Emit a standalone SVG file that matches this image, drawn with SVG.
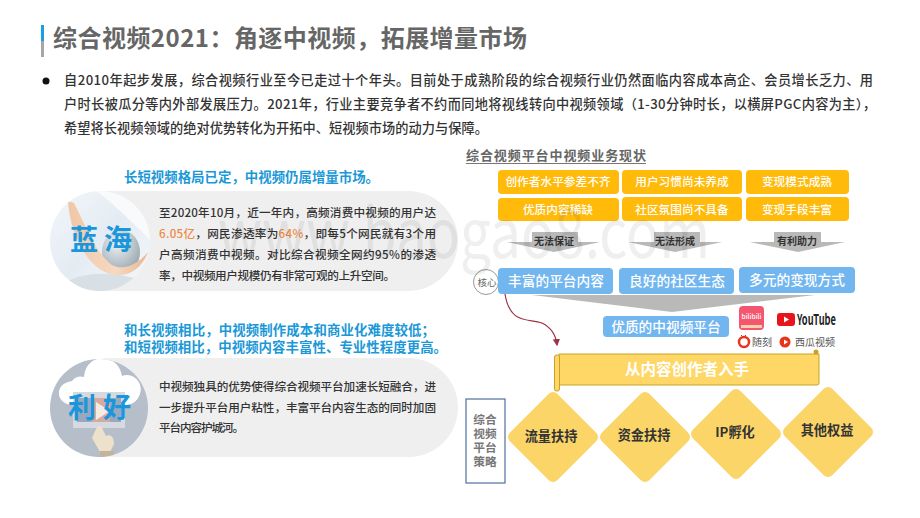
<svg xmlns="http://www.w3.org/2000/svg" width="920" height="518" viewBox="0 0 920 518">
<defs>
<style>
text{font-family:"Noto Sans CJK SC","Noto Sans",sans-serif}
.body{font-size:13.2px;fill:#333;font-weight:500}
.pill{font-size:11.6px;fill:#333;font-weight:500}
.hd{font-size:13.4px;fill:#1a98d8;font-weight:700}
.big{font-size:28px;fill:#1a96dc;font-weight:700}
.or{fill:#ffba0a}
.ot{font-size:11.7px;fill:#fff;text-anchor:middle;font-weight:500}
.bl{fill:#72b6f0}
.bt{font-size:13.7px;fill:#fff;text-anchor:middle;font-weight:500}
.ar{fill:#b9b9b9}
.at{font-size:10px;fill:#333;text-anchor:middle;font-weight:700}
.dm{fill:#fbd568;stroke:#fbd568;stroke-width:12;stroke-linejoin:round}
.dt{font-size:13.2px;fill:#333;text-anchor:middle;font-weight:700}
.st{font-size:11.7px;fill:#777;text-anchor:middle;font-weight:700}
.pb{fill:#efefef}
</style>
<linearGradient id="bar" x1="0" y1="0" x2="0" y2="1"><stop offset="0.5" stop-color="#1a9ee0"/><stop offset="0.5" stop-color="#a6a6a6"/></linearGradient>
<linearGradient id="sea" x1="0" y1="0" x2="1" y2="1"><stop offset="0" stop-color="#f2f6f9"/><stop offset="0.5" stop-color="#e4ecf3"/><stop offset="1" stop-color="#f6f8fa"/></linearGradient>
<radialGradient id="globe" cx="0.4" cy="0.3" r="0.75"><stop offset="0" stop-color="#f0f3f5"/><stop offset="1" stop-color="#94a3ab"/></radialGradient>
<linearGradient id="rib" x1="0" y1="0" x2="1" y2="0"><stop offset="0" stop-color="#f0c7a6"/><stop offset="0.6" stop-color="#f5d9c2"/><stop offset="1" stop-color="#eab691"/></linearGradient>
<clipPath id="c1"><circle cx="100" cy="241" r="50"/></clipPath>
<clipPath id="c2"><circle cx="99" cy="408" r="49"/></clipPath>
<marker id="arr" markerWidth="7" markerHeight="7" refX="5" refY="3" orient="auto"><path d="M0 0L6 3L0 6Z" fill="#a03045"/></marker>
</defs>
<rect width="920" height="518" fill="#fff"/>

<g id="title">
<rect x="41" y="25" width="3" height="32" fill="url(#bar)"/>
<text x="53" y="47" font-size="24" fill="#666" font-weight="700" textLength="474">综合视频2021：角逐中视频，拓展增量市场</text>
</g>

<g id="intro">
<circle cx="46" cy="81" r="3.5" fill="#111"/>
<text class="body" x="64" y="85" textLength="809">自2010年起步发展，综合视频行业至今已走过十个年头。目前处于成熟阶段的综合视频行业仍然面临内容成本高企、会员增长乏力、用</text>
<text class="body" x="64" y="109" textLength="812">户时长被瓜分等内外部发展压力。2021年，行业主要竞争者不约而同地将视线转向中视频领域（1-30分钟时长，以横屏PGC内容为主），</text>
<text class="body" x="64" y="133" textLength="424">希望将长视频领域的绝对优势转化为开拓中、短视频市场的动力与保障。</text>
</g>

<g id="blue-sea">
<text class="hd" x="124" y="182" textLength="255">长短视频格局已定，中视频仍属增量市场。</text>
<rect class="pb" x="60" y="191" width="398" height="100" rx="50"/>
<circle cx="100" cy="241" r="50" fill="url(#sea)"/>
<g clip-path="url(#c1)">
<path d="M95 190C115 205 135 225 150 240V190Z" fill="#f8fafc"/>
<path d="M60 285C85 270 115 272 140 280L128 296H72Z" fill="#d8dfe5"/>
<ellipse cx="121" cy="252" rx="19" ry="22" fill="url(#globe)"/>
<path d="M68 201C70 235 88 268 110 274C128 279 142 268 148 252C140 262 125 272 112 265C96 254 84 222 74 203Z" fill="url(#rib)"/>
</g>
<text class="big" x="70" y="250">蓝</text>
<text class="big" x="104" y="250">海</text>
<text class="pill" x="159" y="217" textLength="277">至2020年10月，近一年内，高频消费中视频的用户达</text>
<text class="pill" x="159" y="238" textLength="277"><tspan fill="#ee8a45">6.05亿</tspan>，网民渗透率为<tspan fill="#ee8a45">64%</tspan>，即每5个网民就有3个用</text>
<text class="pill" x="159" y="259" textLength="277">户高频消费中视频。对比综合视频全网约95%的渗透</text>
<text class="pill" x="159" y="280" textLength="236">率，中视频用户规模仍有非常可观的上升空间。</text>
</g>

<g id="benefit">
<text class="hd" x="124" y="335" textLength="311">和长视频相比，中视频制作成本和商业化难度较低；</text>
<text class="hd" x="124" y="352" textLength="323">和短视频相比，中视频内容丰富性、专业性程度更高。</text>
<rect class="pb" x="60" y="358" width="398" height="99" rx="49.5"/>
<circle cx="99" cy="408" r="49" fill="#b6bec9"/>
<g clip-path="url(#c2)">
<path d="M72 405C56 404 53 384 72 381C76 376 80 376 84 377C86 352 118 352 122 376C132 372 144 382 140 394C137 403 130 405 124 405Z" fill="#fff"/>
<rect x="73" y="392" width="52" height="36" fill="#d5dae1"/>
<rect x="77" y="398" width="44" height="24" fill="#98a9bf"/>
<rect x="92" y="398" width="18" height="24" fill="#d8a9a2"/>
<path d="M96 402L110 411L96 420Z" fill="#f4ece0"/>
<path d="M96 429C98 424 102 425 103 430L106 436C110 434 114 436 114 444L110 452H100L92 438Z" fill="#eee1cc"/>
<rect x="100" y="451" width="14" height="8" fill="#c4b49b"/>
</g>
<text class="big" x="68" y="418">利</text>
<text class="big" x="103" y="418">好</text>
<text class="pill" x="159" y="391" textLength="277">中视频独具的优势使得综合视频平台加速长短融合，进</text>
<text class="pill" x="159" y="412" textLength="277">一步提升平台用户粘性，丰富平台内容生态的同时加固</text>
<text class="pill" x="159" y="432" textLength="85">平台内容护城河。</text>
</g>

<g id="status-title">
<text x="466" y="160" font-size="13" font-weight="700" fill="#666" textLength="180">综合视频平台中视频业务现状</text>
<rect x="466" y="163" width="180" height="1" fill="#777"/>
</g>

<g id="factors">
<rect class="or" x="498" y="170" width="121" height="24" rx="4"/><text class="ot" x="558" y="186">创作者水平参差不齐</text>
<rect class="or" x="622" y="170" width="120" height="24" rx="4"/><text class="ot" x="682" y="186">用户习惯尚未养成</text>
<rect class="or" x="746" y="170" width="103" height="24" rx="4"/><text class="ot" x="797" y="186">变现模式成熟</text>
<rect class="or" x="498" y="198" width="121" height="23" rx="4"/><text class="ot" x="558" y="213.500">优质内容稀缺</text>
<rect class="or" x="622" y="197" width="120" height="24" rx="4"/><text class="ot" x="682" y="213.500">社区氛围尚不具备</text>
<rect class="or" x="746" y="197" width="103" height="24" rx="4"/><text class="ot" x="797" y="213.500">变现手段丰富</text>
</g>

<g id="connectors">
<path class="ar" d="M532 232H578V242H600L554 252L507 242H532Z"/>
<path class="ar" d="M654 232H700V242H722L675 252L628 242H654Z"/>
<path class="ar" d="M774 232H821V242H845L798 252L750 242H774Z"/>
<path class="ar" d="M532 295H815L672 312Z"/>
<path d="M505 294C510 325 528 318 542 323C552 328 556 335 557 345" fill="none" stroke="#a03045" stroke-width="1.2" marker-end="url(#arr)"/>
<text class="at" x="554" y="245">无法保证</text>
<text class="at" x="675" y="245">无法形成</text>
<text class="at" x="797" y="245">有利助力</text>
</g>

<g id="core">
<circle cx="486" cy="282" r="12.5" fill="#fff" stroke="#999"/>
<text x="487" y="286" font-size="9.5" fill="#666" text-anchor="middle">核心</text>
</g>
<g id="pillars">
<rect class="bl" x="498" y="268" width="115" height="26" rx="4"/><text class="bt" x="556" y="285.500">丰富的平台内容</text>
<rect class="bl" x="619" y="268" width="115" height="26" rx="4"/><text class="bt" x="677" y="285.500">良好的社区生态</text>
<rect class="bl" x="739" y="267" width="116" height="26" rx="4"/><text class="bt" x="797" y="284.500">多元的变现方式</text>
<rect class="bl" x="603" y="316" width="126" height="21" rx="4"/><text class="bt" x="666" y="331.500">优质的中视频平台</text>
</g>

<g id="logos">
<rect x="739" y="306" width="25" height="24" rx="4" fill="#f4566f"/>
<rect x="741" y="325" width="21" height="3" fill="#fbd0a8"/>
<text x="751.500" y="319" font-size="7" fill="#fff" font-weight="500" text-anchor="middle" textLength="20" lengthAdjust="spacingAndGlyphs">bilibili</text>
<rect x="777" y="313" width="18" height="13" rx="3" fill="#e8141b"/>
<path d="M784 316.500L789 319.500L784 322.500Z" fill="#fff"/>
<text x="797" y="325" font-size="15" font-weight="700" fill="#222" textLength="39" lengthAdjust="spacingAndGlyphs">YouTube</text>
<path d="M741 335L743 337M746 335L744 337" stroke="#d8341b" fill="none"/>
<circle cx="744" cy="342" r="5" fill="none" stroke="#e8341b" stroke-width="2.500"/>
<text x="752" y="346" font-size="10" fill="#555">随刻</text>
<circle cx="785" cy="342" r="5.500" fill="#e8341b"/>
<path d="M784 339.500L788 342L784 344.500Z" fill="#fff"/>
<text x="795" y="346" font-size="10" fill="#555">西瓜视频</text>
</g>

<g id="scroll">
<path d="M559 354H819V383Q819 385 817 385H559Z" fill="#ffd766" stroke="#c9a227" stroke-width="1"/>
<rect x="554.500" y="355" width="5" height="36" rx="2" fill="#ffd766" stroke="#c9a227"/>
<circle cx="816" cy="352" r="2.500" fill="#c9a227"/>
<text x="687" y="375" font-size="15.500" fill="#fff" font-weight="700" text-anchor="middle">从内容创作者入手</text>
</g>

<g id="strategy">
<rect x="466" y="399" width="39" height="84" fill="#fff" stroke="#4f6f9f" stroke-width="1.200"/>
<text class="st" x="485" y="424">综合</text>
<text class="st" x="485" y="438">视频</text>
<text class="st" x="485" y="452">平台</text>
<text class="st" x="485" y="466">策略</text>
</g>

<g id="d1"><path class="dm" d="M553 398L592 437L553 476L514 437Z"/><text class="dt" x="551" y="441">流量扶持</text></g>
<g id="d2"><path class="dm" d="M645 398L684 437L645 476L606 437Z"/><text class="dt" x="644" y="440">资金扶持</text></g>
<g id="d3"><path class="dm" d="M736 395L775 434L736 473L697 434Z"/><text class="dt" x="735" y="437">IP孵化</text></g>
<g id="d4"><path class="dm" d="M828 393L867 432L828 471L789 432Z"/><text class="dt" x="827" y="435">其他权益</text></g>

<text x="218" y="258" font-family="Liberation Sans" font-size="68" fill="#000" opacity="0.06" textLength="492" lengthAdjust="spacingAndGlyphs">www.baogao8.com</text>
</svg>
